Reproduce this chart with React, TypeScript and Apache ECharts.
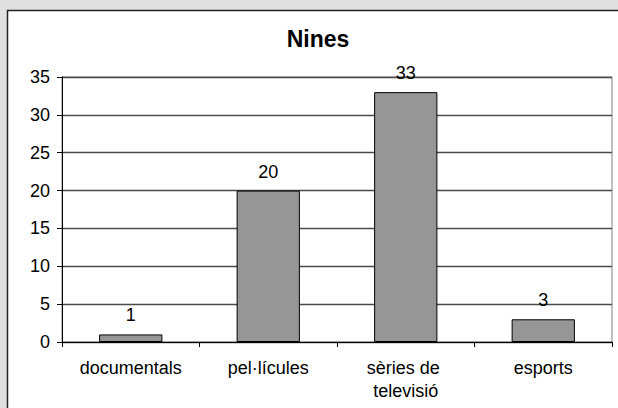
import React, { useEffect, useRef } from "react";
import * as echarts from "echarts";

const titleText = "Nines";
const categories = ["documentals", "pel·lícules", "sèries de televisió", "esports"];
const values = [1, 20, 33, 3];
const yTicks = { min: 0, max: 35, interval: 5 };

export default function App() {
  const ref = useRef<HTMLDivElement>(null);
  useEffect(() => {
    document.body.style.margin = "0";
    const chart = echarts.init(ref.current!, null, { renderer: "svg" });
    const font = "'Liberation Sans', Arial, sans-serif";
    chart.setOption({
      animation: false,
      backgroundColor: "#e0e0e0",
      textStyle: { fontFamily: font },
      graphic: [
        {
          type: "rect",
          z: -10,
          shape: { x: 7.5, y: 10.5, width: 640, height: 420 },
          style: { fill: "#ffffff", stroke: "#222222", lineWidth: 1.5 },
        },
        {
          type: "text",
          x: 318,
          y: 39,
          style: {
            text: titleText,
            fontFamily: font,
            fontSize: 23,
            fontWeight: "bold",
            fill: "#000",
            align: "center",
            verticalAlign: "middle",
          },
        },
      ],
      grid: {
        left: 62,
        top: 77,
        right: 6,
        bottom: 66,
        show: true,
        borderColor: "#808080",
        borderWidth: 1,
        backgroundColor: "transparent",
      },
      xAxis: {
        type: "category",
        data: categories,
        axisLine: { lineStyle: { color: "#000", width: 1 } },
        axisTick: { show: true, length: 5, lineStyle: { color: "#000" } },
        axisLabel: {
          color: "#000",
          fontSize: 18,
          fontFamily: font,
          margin: 14,
          width: 130,
          overflow: "break",
          lineHeight: 23,
          interval: 0,
        },
      },
      yAxis: {
        type: "value",
        min: yTicks.min,
        max: yTicks.max,
        interval: yTicks.interval,
        axisLine: { show: true, lineStyle: { color: "#000", width: 1 } },
        axisTick: { show: true, length: 5, lineStyle: { color: "#000" } },
        axisLabel: { color: "#000", fontSize: 18, fontFamily: font, margin: 12 },
        splitLine: { show: true, lineStyle: { color: "#4a4a4a", width: 1.3 } },
      },
      series: [
        {
          type: "bar",
          data: values,
          barWidth: "46%",
          itemStyle: { color: "#969696", borderColor: "#000", borderWidth: 1 },
          label: {
            show: true,
            position: "top",
            distance: 10,
            color: "#000",
            fontSize: 18,
            fontFamily: font,
          },
        },
      ],
    });
    return () => chart.dispose();
  }, []);
  return <div ref={ref} style={{ width: 618, height: 408 }} />;
}
